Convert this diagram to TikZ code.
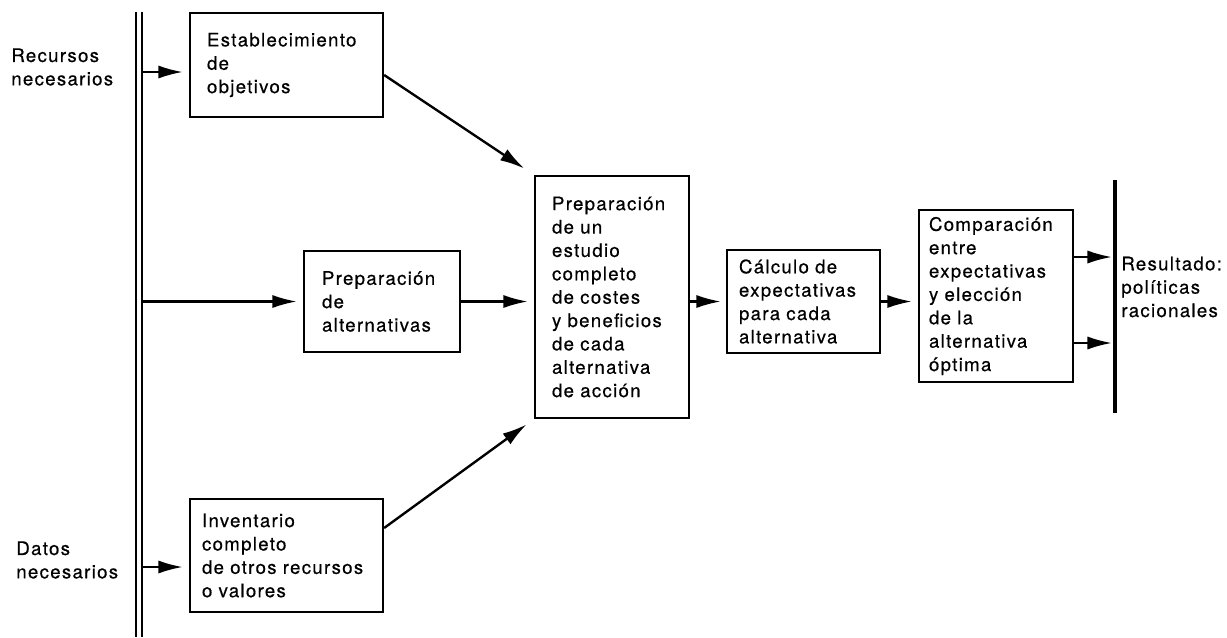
\documentclass[tikz,border=0pt]{standalone}
\usepackage{fontspec}
\setmainfont{TeX Gyre Heros}[LetterSpace=7, FakeBold=0.5]
\usetikzlibrary{arrows.meta}

\begin{document}
\begin{tikzpicture}[x=0.02cm, y=-0.02cm,
    font=\fontsize{10.6pt}{13.3pt}\selectfont,
    box/.style={draw, line width=1.3pt, align=left, inner ysep=0pt},
    lbl/.style={align=left, anchor=west, inner sep=0pt},
    arr/.style={-{Latex[length=14pt, width=7.5pt]}, line width=1.35pt, shorten >=0.12cm}]

    \useasboundingbox (0,0) rectangle (1227,637);

    % side labels
    \node[lbl] at (11,67) (rec) {Recursos\\necesarios};
    \node[lbl] at (16,560) (dat) {Datos\\necesarios};
    \node[lbl] at (1121,287) (res) {Resultado:\\políticas\\racionales};

    % rails
    \coordinate (rtop) at (139,12);
    \coordinate (rbot) at (139,637);
    \coordinate (rail) at (142,0);
    \draw[line width=1.3pt, double, double distance=2.1pt] (rtop) -- (rbot);
    \coordinate (btop) at (1115,180);
    \coordinate (bbot) at (1115,413);
    \draw[line width=2.6pt] (btop) -- (bbot);

    % nodes
    \node[box, minimum width=3.86cm, minimum height=2.08cm, text width=3.18cm, inner xsep=0.34cm] at (286.5,65) (est) {Establecimiento\\de\\objetivos};
    \node[box, minimum width=3.12cm, minimum height=2.02cm, text width=2.40cm, inner xsep=0.36cm] at (382,301.5) (alt) {Preparación\\de\\alternativas};
    \node[box, minimum width=3.86cm, minimum height=2.26cm, text width=3.38cm, inner xsep=0.24cm] at (286.5,555.5) (inv) {Inventario\\completo\\de otros recursos\\o valores};
    \node[box, minimum width=3.08cm, minimum height=4.84cm, text width=2.40cm, inner xsep=0.34cm] at (612,297) (cen) {Preparación\\de un\\estudio\\completo\\de costes\\y beneficios\\de cada\\alternativa\\de acción};
    \node[box, minimum width=3.06cm, minimum height=2.06cm, text width=2.58cm, inner xsep=0.24cm] at (803.5,301.5) (calc) {Cálculo de\\expectativas\\para cada\\alternativa};
    \node[box, minimum width=3.08cm, minimum height=3.44cm, text width=2.68cm, inner xsep=0.20cm] at (996,296) (comp) {Comparación\\entre\\expectativas\\y elección\\de la\\alternativa\\óptima};

    % paths
    \draw[arr] ([yshift=-0.14cm]est.west -| rail) -- ([yshift=-0.14cm]est.west); % Recursos -> Establecimiento
    \draw[arr] (alt.west -| rail) -- (alt.west); % Recursos -> Alternativas
    \draw[arr] ([yshift=-0.23cm]inv.west -| rail) -- ([yshift=-0.23cm]inv.west); % Datos -> Inventario

    \draw[arr, shorten >=0.23cm] ([yshift=-0.2cm]est.east) -- (cen.north west); % Establecimiento -> Estudio
    \draw[arr] (alt.east) -- (alt.east -| cen.west); % Alternativas -> Estudio
    \draw[arr, shorten >=0.18cm] ([yshift=0.55cm]inv.east) -- (cen.south west); % Inventario -> Estudio

    \draw[arr, shorten >=0.1cm] (cen.east |- calc.west) -- (calc.west); % Estudio -> Calculo
    \draw[arr] (calc.east) -- (calc.east -| comp.west); % Calculo -> Comparacion

    \draw[arr, shorten >=0.06cm] ([yshift=0.78cm]comp.east) -- ([yshift=0.78cm]comp.east -| btop); % Comparacion -> Resultado
    \draw[arr, shorten >=0.06cm] ([yshift=-0.94cm]comp.east) -- ([yshift=-0.94cm]comp.east -| btop); % Comparacion -> Resultado

\end{tikzpicture}
\end{document}
